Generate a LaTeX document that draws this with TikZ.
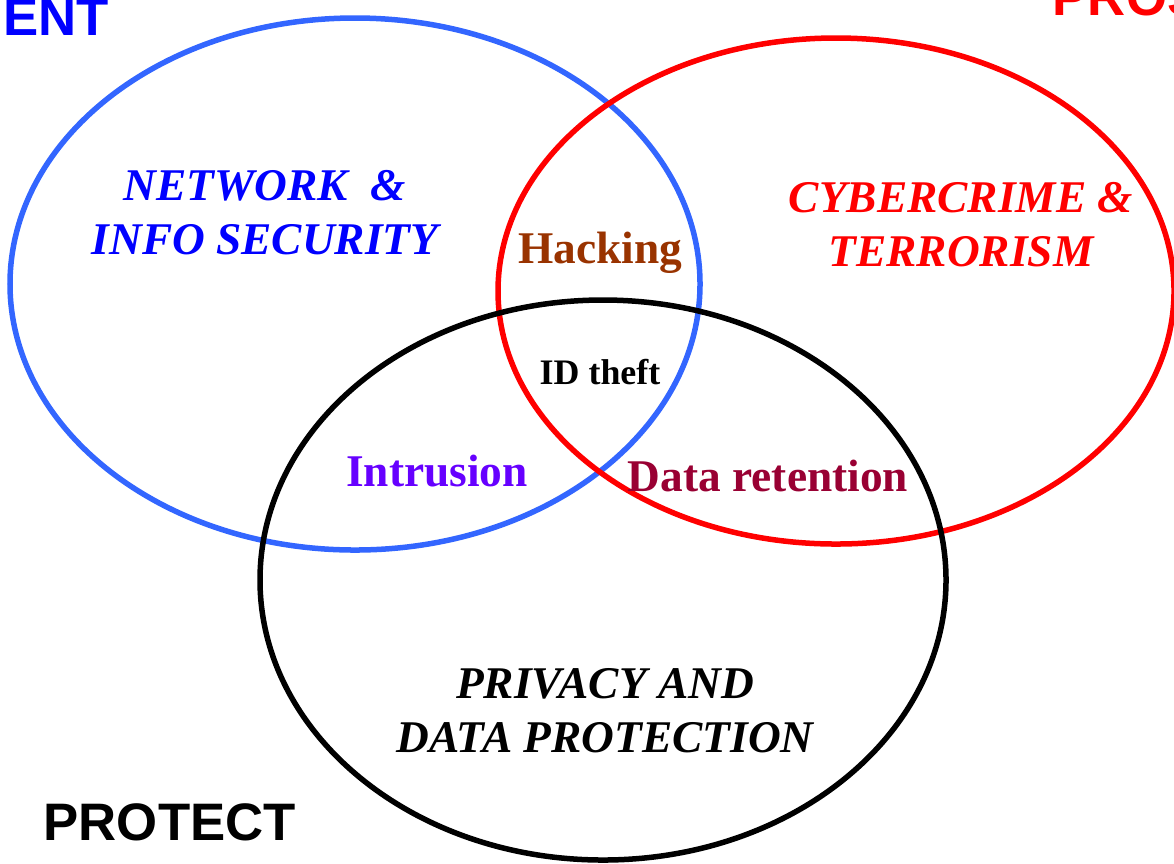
\documentclass[tikz,border=0pt]{standalone}
\usepackage{fontspec}
\setmainfont{Liberation Serif}
\setsansfont{Liberation Sans}
\usepackage{xcolor}
\usetikzlibrary{positioning}

\definecolor{netblue}{RGB}{51,102,255}
\definecolor{hackbrown}{RGB}{153,51,0}
\definecolor{intrviolet}{RGB}{102,0,255}
\definecolor{retcrimson}{RGB}{153,0,51}

\begin{document}
\begin{tikzpicture}[x=0.01cm, y=-0.01cm,
  ring/.style={line width=0.055cm},
  big/.style={font=\fontsize{12.9}{15.3}\selectfont\bfseries\itshape, align=center},
  small/.style={font=\fontsize{12.9}{15.3}\selectfont\bfseries},
  corner/.style={font=\fontsize{15}{18}\selectfont\sffamily\bfseries, inner sep=0pt}]
\useasboundingbox (0,0) rectangle (1174,863);
\clip (0,0) rectangle (1174,863);

% the three fields
\draw[ring, netblue] (355,284) ellipse [x radius=345, y radius=266];
\draw[ring, red] (836,291) ellipse [x radius=338, y radius=253];
\draw[ring, black] (603,580) ellipse [x radius=343, y radius=280];

% field titles
\node[big, blue] (network) at (265,213) {NETWORK\ \ \&\\INFO SECURITY};
\node[big, red] (cybercrime) at (961,225) {CYBERCRIME \&\\TERRORISM};
\node[big, black] (privacy) at (605,711) {PRIVACY AND\\DATA PROTECTION};

% overlaps
\node[small, hackbrown] (hacking) at (600,253) {Hacking};
\node[small, font=\fontsize{10.2}{12}\selectfont\bfseries] (idtheft) at (600,372) {ID theft};
\node[small, intrviolet] (intrusion) at (437,471) {Intrusion};
\node[small, retcrimson] (retention) at (768,476) {Data retention};

% corner words
\node[corner, blue, anchor=base west] (prevent) at (3,35) {ENT};
\node[corner, red, anchor=base west] (prosecute) at (1052,15) {PROS};
\node[corner, black, anchor=base west] (protect) at (43,840) {PROTECT};

\end{tikzpicture}
\end{document}
